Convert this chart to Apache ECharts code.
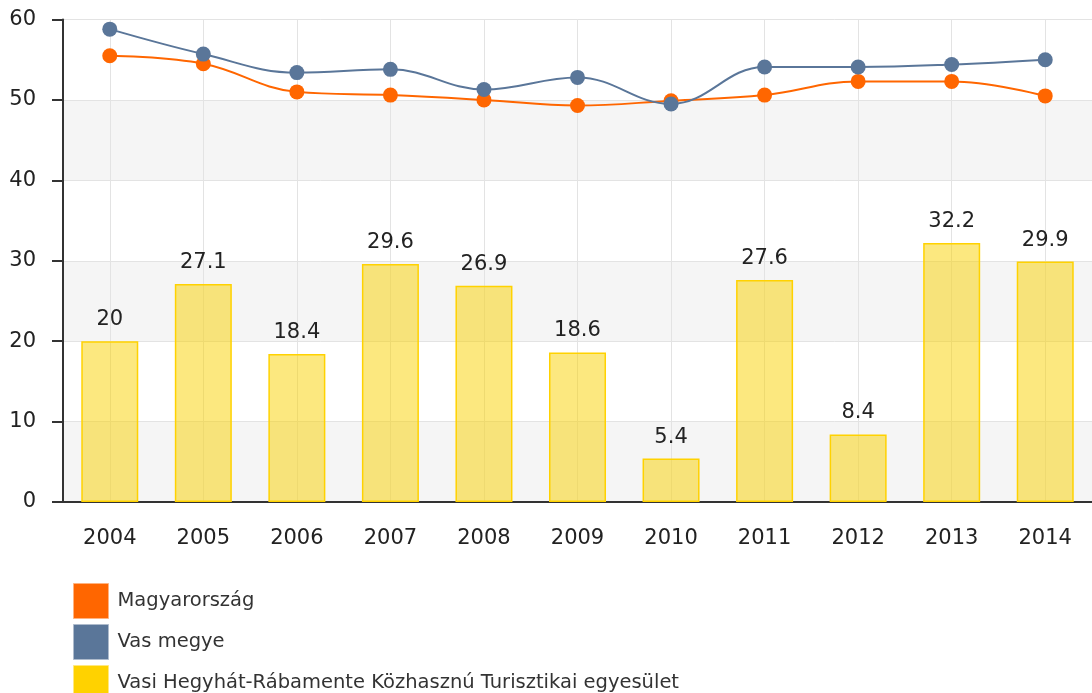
<!DOCTYPE html>
<html>
<head>
<meta charset="utf-8">
<script src="https://cdn.jsdelivr.net/npm/echarts@6/dist/echarts.min.js"></script>
<style>
html,body{margin:0;padding:0;background:#fff;}
#c{width:1092px;height:693px;}
</style>
</head>
<body>
<div id="c"></div>
<script>
const categories = ['2004','2005','2006','2007','2008','2009','2010','2011','2012','2013','2014'];
const magyarorszag = [55.5, 54.5, 51.0, 50.6, 50.0, 49.3, 49.9, 50.6, 52.3, 52.3, 50.5];
const vasMegye = [58.8, 55.7, 53.4, 53.8, 51.3, 52.8, 49.5, 54.1, 54.1, 54.4, 55.0];
const egyesulet = [20, 27.1, 18.4, 29.6, 26.9, 18.6, 5.4, 27.6, 8.4, 32.2, 29.9];
const yTicks = [0, 10, 20, 30, 40, 50, 60];
const names = ['Magyarország', 'Vas megye', 'Vasi Hegyhát-Rábamente Közhasznú Turisztikai egyesület'];

const chart = echarts.init(document.getElementById('c'), null, {renderer: 'canvas'});
const font = 'DejaVu Sans';
chart.setOption({
  animation: false,
  backgroundColor: '#fff',
  textStyle: {fontFamily: font},
  grid: {left: 63, top: 19.5, width: 1034, height: 482.5, containLabel: false},
  legend: {
    orient: 'vertical', left: 73, top: 583, height: 200, padding: 0,
    itemWidth: 35, itemHeight: 35, itemGap: 5, icon: 'rect',
    textStyle: {fontFamily: font, fontSize: 19.5, color: '#333', padding: [0,0,0,4]},
    data: [
      {name: names[0], itemStyle: {color: '#FF6600', borderColor: '#ffb380', borderWidth: 1}},
      {name: names[1], itemStyle: {color: '#5A7699', borderColor: '#aebbcc', borderWidth: 1}},
      {name: names[2], itemStyle: {color: '#FFD200', borderColor: '#ffe880', borderWidth: 1}}
    ]
  },
  xAxis: {
    type: 'category', data: categories, boundaryGap: true,
    axisLine: {lineStyle: {color: '#333', width: 2}},
    axisTick: {alignWithLabel: true, length: 11, lineStyle: {color: '#333', width: 2}},
    axisLabel: {fontFamily: font, fontSize: 21, color: '#222', margin: 26},
    splitLine: {show: true, alignWithLabel: true, lineStyle: {color: '#e3e3e3', width: 1}}
  },
  yAxis: {
    type: 'value', min: yTicks[0], max: yTicks[yTicks.length - 1], interval: 10,
    axisLine: {show: true, lineStyle: {color: '#333', width: 2}},
    axisTick: {show: true, length: 11, lineStyle: {color: '#333', width: 2}},
    axisLabel: {fontFamily: font, fontSize: 21, color: '#222', margin: 27},
    splitLine: {show: true, lineStyle: {color: '#e3e3e3', width: 1}},
    splitArea: {show: true, areaStyle: {color: ['#f5f5f5', '#ffffff']}}
  },
  series: [
    {
      name: names[2], type: 'bar', data: egyesulet, barWidth: 57,
      itemStyle: {color: 'rgba(250,210,0,0.5)', borderColor: '#FFD200', borderWidth: 1.5},
      label: {show: true, position: 'top', distance: 11, fontFamily: font, fontSize: 21, color: '#222'},
      z: 2
    },
    {
      name: names[0], type: 'line', data: magyarorszag, smooth: 0.4,
      symbol: 'circle', symbolSize: 15,
      lineStyle: {color: '#FF6600', width: 2},
      itemStyle: {color: '#FF6600'},
      z: 3
    },
    {
      name: names[1], type: 'line', data: vasMegye, smooth: 0.4,
      symbol: 'circle', symbolSize: 15,
      lineStyle: {color: '#5A7699', width: 2},
      itemStyle: {color: '#5A7699'},
      z: 4
    }
  ]
});
</script>
</body>
</html>
